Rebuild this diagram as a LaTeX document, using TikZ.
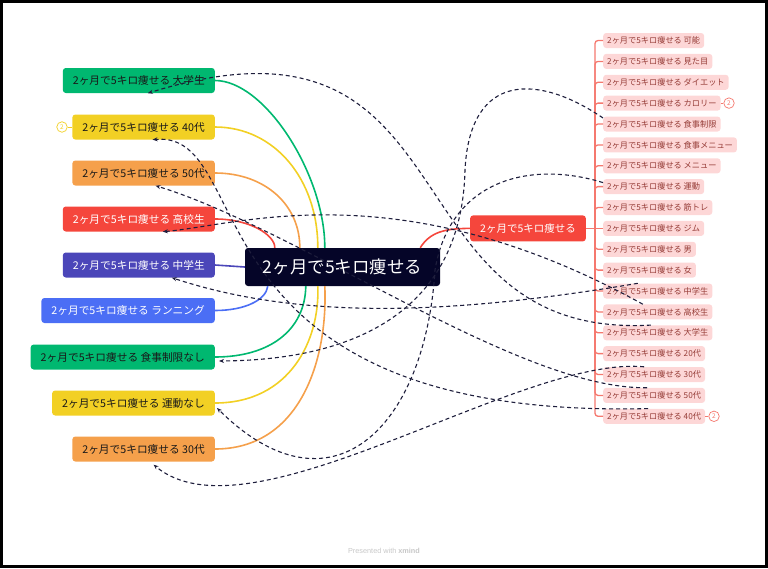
\documentclass[tikz,border=0pt]{standalone}
\usepackage{fontspec}
\setmainfont{Noto Sans CJK JP}
\newfontfamily\wmfont{Liberation Sans}
\usetikzlibrary{arrows.meta,calc}
\definecolor{mgreen}{RGB}{0,184,112}
\definecolor{myellow}{RGB}{242,208,36}
\definecolor{morange}{RGB}{245,160,75}
\definecolor{mred}{RGB}{245,70,60}
\definecolor{mindigo}{RGB}{75,70,185}
\definecolor{mblue}{RGB}{75,110,245}
\definecolor{mnavy}{RGB}{5,5,40}
\definecolor{mpink}{RGB}{253,215,215}
\definecolor{mpinktext}{RGB}{150,60,55}
\definecolor{mtrunk}{RGB}{245,120,110}
\definecolor{mrel}{RGB}{30,30,60}
\tikzset{
  topic/.style={rounded corners=3pt, minimum height=25pt, inner xsep=10pt, inner ysep=0pt,
    text=black!90, font=\fontsize{10.7}{12}\selectfont, anchor=east},
  sub/.style={fill=mpink, text=mpinktext, rounded corners=3pt, minimum height=15pt,
    inner xsep=4pt, inner ysep=0pt, font=\fontsize{8.2}{9}\selectfont, anchor=west},
  branch/.style={line width=1.6pt},
  trunk/.style={draw=mtrunk, line width=1.3pt, rounded corners=3pt},
  rel/.style={draw=mrel, line width=1.1pt, dash pattern=on 4pt off 3pt,
    -{Stealth[length=5pt,width=4pt]}},
  badge/.style={circle, draw, line width=0.7pt, inner sep=0pt, minimum size=10.5pt,
    fill=white, font=\fontsize{6.5}{7}\selectfont},
}

\begin{document}
\begin{tikzpicture}[x=1pt,y=-1pt]
  \useasboundingbox (0,0) rectangle (768,568);
  \draw[line width=3pt] (1.5,1.5) rectangle (766.5,566.5);

  \node[fill=mnavy, text=white, rounded corners=3pt, minimum width=195pt, minimum height=38pt,
    font=\fontsize{17.5}{20}\selectfont] (C) at (342.5,267) {2ヶ月で5キロ痩せる};

  % left side
  \node[topic, fill=mgreen] (L1) at (215,80.5) {2ヶ月で5キロ痩せる 大学生};
  \node[topic, fill=myellow] (L2) at (215,127) {2ヶ月で5キロ痩せる 40代};
  \node[topic, fill=morange] (L3) at (215,173) {2ヶ月で5キロ痩せる 50代};
  \node[topic, fill=mred, text=white] (L4) at (215,219) {2ヶ月で5キロ痩せる 高校生};
  \node[topic, fill=mindigo, text=white] (L5) at (215,265) {2ヶ月で5キロ痩せる 中学生};
  \node[topic, fill=mblue, text=white] (L6) at (215,310.5) {2ヶ月で5キロ痩せる ランニング};
  \node[topic, fill=mgreen] (L7) at (215,357) {2ヶ月で5キロ痩せる 食事制限なし};
  \node[topic, fill=myellow] (L8) at (215,403) {2ヶ月で5キロ痩せる 運動なし};
  \node[topic, fill=morange] (L9) at (215,449) {2ヶ月で5キロ痩せる 30代};
  \node[badge, draw=myellow, text=myellow] (N1) at (62,127) {2};

  \draw[branch, mgreen] (L1.east) .. controls (265,80.5) and (325,175) .. ($(C.north west)+(80,0)$);
  \draw[branch, myellow] (L2.east) .. controls (275,127) and (318,180) .. ($(C.north west)+(73,0)$);
  \draw[branch, morange] (L3.east) .. controls (265,173) and (300,205) .. ($(C.north west)+(55,0)$);
  \draw[branch, mred] (L4.east) .. controls (250,219) and (275,235) .. ($(C.north west)+(30,0)$);
  \draw[branch, mindigo] (L5.east) -- (C.west);
  \draw[branch, mblue] (L6.east) .. controls (245,310.5) and (266,300) .. ($(C.south west)+(23,0)$);
  \draw[branch, mgreen] (L7.east) .. controls (270,357) and (305,330) .. ($(C.south west)+(61,0)$);
  \draw[branch, myellow] (L8.east) .. controls (290,403) and (320,340) .. ($(C.south west)+(73,0)$);
  \draw[branch, morange] (L9.east) .. controls (300,449) and (328,360) .. ($(C.south west)+(80,0)$);
  \draw[myellow, line width=0.8pt] (N1) -- (L2);

  % right side
  \node[fill=mred, text=white, rounded corners=3pt, minimum height=26pt, inner xsep=10pt,
    font=\fontsize{10.5}{12}\selectfont] (M) at (528,228.4) {2ヶ月で5キロ痩せる};
  \coordinate (T) at (595,228.4);
  \node[sub] (R1) at (603,40.5) {2ヶ月で5キロ痩せる 可能};
  \node[sub] (R2) at (603,61.4) {2ヶ月で5キロ痩せる 見た目};
  \node[sub] (R3) at (603,82.3) {2ヶ月で5キロ痩せる ダイエット};
  \node[sub] (R4) at (603,103.1) {2ヶ月で5キロ痩せる カロリー};
  \node[sub] (R5) at (603,124) {2ヶ月で5キロ痩せる 食事制限};
  \node[sub] (R6) at (603,144.9) {2ヶ月で5キロ痩せる 食事メニュー};
  \node[sub] (R7) at (603,165.8) {2ヶ月で5キロ痩せる メニュー};
  \node[sub] (R8) at (603,186.6) {2ヶ月で5キロ痩せる 運動};
  \node[sub] (R9) at (603,207.5) {2ヶ月で5キロ痩せる 筋トレ};
  \node[sub] (R10) at (603,228.4) {2ヶ月で5キロ痩せる ジム};
  \node[sub] (R11) at (603,249.3) {2ヶ月で5キロ痩せる 男};
  \node[sub] (R12) at (603,270.1) {2ヶ月で5キロ痩せる 女};
  \node[sub] (R13) at (603,291) {2ヶ月で5キロ痩せる 中学生};
  \node[sub] (R14) at (603,311.9) {2ヶ月で5キロ痩せる 高校生};
  \node[sub] (R15) at (603,332.8) {2ヶ月で5キロ痩せる 大学生};
  \node[sub] (R16) at (603,353.6) {2ヶ月で5キロ痩せる 20代};
  \node[sub] (R17) at (603,374.5) {2ヶ月で5キロ痩せる 30代};
  \node[sub] (R18) at (603,395.4) {2ヶ月で5キロ痩せる 50代};
  \node[sub] (R19) at (603,416.3) {2ヶ月で5キロ痩せる 40代};
  \node[badge, draw=mtrunk, text=mtrunk] (N2) at (729,103.1) {2};
  \node[badge, draw=mtrunk, text=mtrunk] (N3) at (714,416.3) {2};

  \draw[branch, mred] ($(C.north east)+(-20,0)$) .. controls (430,232) and (445,228.4) .. (M.west);
  \draw[trunk] (M.east) -- (T);
  \draw[trunk] (T) |- (R1.west);
  \draw[trunk] (T) |- (R2.west);
  \draw[trunk] (T) |- (R3.west);
  \draw[trunk] (T) |- (R4.west);
  \draw[trunk] (T) |- (R5.west);
  \draw[trunk] (T) |- (R6.west);
  \draw[trunk] (T) |- (R7.west);
  \draw[trunk] (T) |- (R8.west);
  \draw[trunk] (T) |- (R9.west);
  \draw[trunk] (T) -- (R10.west);
  \draw[trunk] (T) |- (R11.west);
  \draw[trunk] (T) |- (R12.west);
  \draw[trunk] (T) |- (R13.west);
  \draw[trunk] (T) |- (R14.west);
  \draw[trunk] (T) |- (R15.west);
  \draw[trunk] (T) |- (R16.west);
  \draw[trunk] (T) |- (R17.west);
  \draw[trunk] (T) |- (R18.west);
  \draw[trunk] (T) |- (R19.west);
  \draw[mtrunk, line width=0.8pt] (R4) -- (N2);
  \draw[mtrunk, line width=0.8pt] (R19) -- (N3);

  % relationships
  \draw[rel] ([xshift=-7pt]R15.north) .. controls (380,340) and (480,-10) .. ([xshift=9pt]L1.south);
  \draw[rel] ([xshift=-6pt]R19.north) .. controls (180,420) and (260,130) .. ([xshift=9pt]L2.south);
  \draw[rel] ([xshift=-7pt]R18.north) .. controls (520,390) and (300,230) .. ([xshift=12pt]L3.south);
  \draw[rel] ([xshift=-15pt]R14.north) .. controls (400,170) and (240,225) .. ([xshift=24pt]L4.south);
  \draw[rel] ([xshift=-20pt]R13.north) .. controls (450,315) and (300,320) .. ([xshift=33pt]L5.south);
  \draw[rel] ([yshift=6pt]R5.west) .. controls (540,75) and (470,70) .. (465,170)
    .. controls (462,300) and (370,360) .. ([xshift=4pt,yshift=-4pt]L7.east);
  \draw[rel] ([yshift=4pt]R8.west) .. controls (530,160) and (450,180) .. (435,270)
    .. controls (425,430) and (330,520) .. ([xshift=2pt,yshift=-5pt]L8.east);
  \draw[rel] ([xshift=-10pt]R17.north) .. controls (520,355) and (250,545) .. ([xshift=10pt,yshift=-3pt]L9.south);

  \node[text=black!22, font=\wmfont\fontsize{7.3}{8}\selectfont] (W) at (384,551) {Presented with \textbf{xmind}};
\end{tikzpicture}
\end{document}
